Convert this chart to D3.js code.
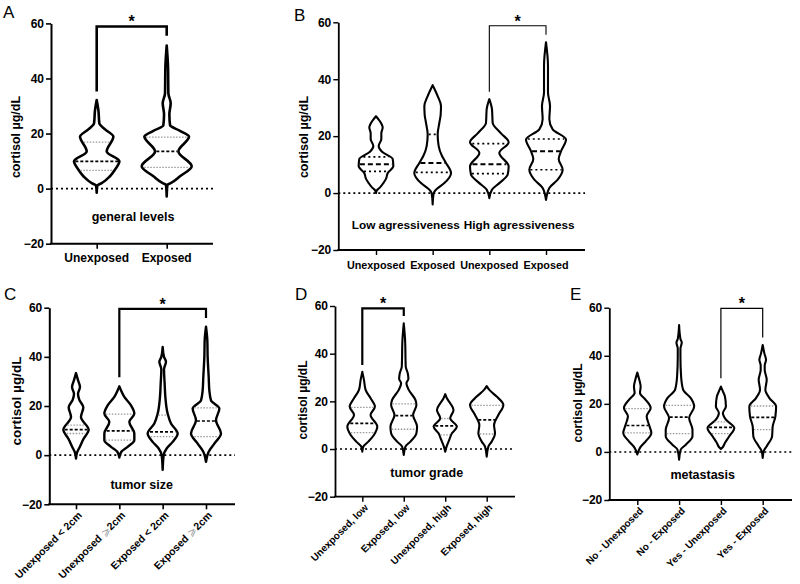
<!DOCTYPE html>
<html>
<head>
<meta charset="utf-8">
<script src="https://cdn.jsdelivr.net/npm/d3@7"></script>
<style>
  body { margin: 0; background: #fff; }
  text { font-family: "Liberation Sans", Arial, sans-serif; }
</style>
</head>
<body>
<div class="canvas"></div>
<script>
// y ticks shared by all panels
const yTicks = [-20, 0, 20, 40, 60]

// ---- panel A : general levels
const catsA = ['Unexposed', 'Exposed']
// violin outline: cortisol values (top to bottom) and relative half widths
const valsA = [
  [32.2, 28.5, 23.7, 21.5, 18.9, 13.5, 9.9, 6.9, 4.5, 2, 1.2, -1.5],
  [52, 44, 34.6, 31, 27, 23, 21, 18.9, 13.5, 8.1, 4.5, 2, 1.4, -2.8]
]
const densA = [
  [0, .024, .038, .12, .238, .143, .324, .262, .19, .071, .01, 0],
  [0, .019, .024, .057, .038, .048, .19, .319, .167, .357, .19, .057, .01, 0]
]
const medA = [9.9, 13.5]
const q1A = [6.6, 7.7]
const q3A = [16.9, 18.7]
const sigA = {from: 0, to: 1, top: 58.9, left: 35.3, right: 55.5}

// ---- panel B : aggressiveness
const catsB = ['Unexposed', 'Exposed', 'Unexposed ', 'Exposed ']
const groupsB = ['Low agressiveness', 'High agressiveness']
const valsB = [
  [27, 25.5, 23, 21, 19, 16.5, 14.5, 12, 9.5, 7, 5, 3.5, 2, 1, 0],
  [37.9, 34.1, 30.6, 27.5, 24.7, 20.6, 16.5, 13, 10.6, 7, 3.5, 1.2, 0, -4],
  [33, 29.4, 24.7, 21, 17.9, 14.1, 9.4, 6.5, 3.5, 1.2, -1.8],
  [53, 44.7, 35.3, 30.6, 25.9, 22.4, 18.8, 14.7, 12, 8.2, 4.7, 1.8, -2.4]
]
const densB = [
  [0, .059, .118, .094, .094, .047, .106, .294, .306, .206, .176, .129, .071, .018, 0],
  [0, .088, .147, .141, .118, .088, .106, .165, .235, .324, .206, .059, .018, 0],
  [0, .047, .059, .206, .341, .176, .341, .324, .176, .047, 0],
  [0, .035, .035, .071, .059, .118, .353, .265, .224, .294, .206, .059, 0]
]
const medB = [10.1, 10.6, 10.1, 14.7]
const q1B = [7.6, 7.3, 6.8, 8.2]
const q3B = [12.7, 20.6, 17.4, 19]
const sigB = {from: 2, to: 3, top: 58.8, left: 35.6, right: 55.6}

// ---- panel C : tumor size
const catsC = ['Unexposed < 2cm', 'Unexposed \u2A7E2cm', 'Exposed < 2cm', 'Exposed \u2A7E2cm']
const valsC = [
  [33.4, 30.5, 27.7, 25, 22.5, 19.5, 15.5, 10.3, 6.5, 3.5, 1, -1.4],
  [28, 26.4, 23.7, 20.3, 16.9, 13.5, 8.8, 6.1, 3.4, 1.4, -1],
  [44, 40, 38, 35, 29, 23.7, 16.9, 12.9, 8.8, 5.4, 2.7, 0, -6],
  [52.3, 46.6, 40, 31.8, 26.4, 22.3, 19, 14.2, 8.8, 4.7, 1.4, -2.7]
]
const densC = [
  [0, .046, .092, .046, .077, .169, .115, .292, .169, .092, .023, 0],
  [0, .038, .115, .269, .346, .231, .346, .346, .192, .046, 0],
  [0, .031, .077, .031, .046, .062, .115, .192, .346, .231, .092, .023, 0],
  [0, .031, .038, .062, .077, .115, .308, .231, .346, .192, .062, 0]
]
const medC = [10.4, 9.9, 9.5, 13.9]
const q1C = [8.8, 6.1, 7.5, 7.5]
const q3C = [12.2, 16.7, 16.3, 19.2]
const sigC = {from: 1, to: 3, top: 59.5, left: 31.7, right: 55.8}

// ---- panel D : tumor grade
const catsD = ['Unexposed, low', 'Exposed, low', 'Unexposed, high', 'Exposed, high']
const valsD = [
  [32.4, 29, 24.8, 21.3, 17.8, 14.3, 9.4, 5.9, 3.1, 1, -1.1],
  [52.7, 45.7, 34.5, 31.8, 29.5, 27.6, 24.8, 20.6, 18.5, 14.3, 9.4, 6.6, 3.1, 1, -2.5],
  [23, 21.3, 19.2, 16.4, 12.9, 9.4, 6.6, 3.8, 1, -1.1],
  [26.4, 24.8, 22, 18.5, 14.3, 10.1, 6.6, 3.1, 1, -3.2]
]
const densD = [
  [0, .04, .08, .2, .305, .2, .361, .281, .145, .024, 0],
  [0, .032, .048, .096, .112, .064, .12, .281, .305, .225, .321, .305, .161, .04, 0],
  [0, .04, .12, .2, .12, .281, .161, .096, .032, 0],
  [0, .064, .241, .402, .281, .177, .2, .12, .04, 0]
]
const medD = [10.8, 14, 9.7, 12.2]
const q1D = [6.9, 8.3, 5.9, 6.3]
const q3D = [17.5, 18.9, 12.8, 18.3]
const sigD = {from: 0, to: 1, top: 59, left: 35.2, right: 55.8}

// ---- panel E : metastasis
const catsE = ['No - Unexposed', 'No - Exposed', 'Yes - Unexposed', 'Yes - Exposed']
const valsE = [
  [33, 30, 27.2, 24.5, 21.7, 18.3, 14.8, 11.3, 7.9, 4.4, 1.7, -1.1],
  [52.8, 47, 45.5, 43, 39.7, 31.4, 25.9, 22.4, 18.9, 14.1, 9.3, 6.5, 3, 1, -3.2],
  [27.2, 25.2, 23.1, 18.9, 16.2, 13.4, 10, 6.5, 3.7, 1.7, 1.2],
  [44.5, 41, 38.3, 36, 34.2, 30, 25.9, 22.4, 18.9, 14.8, 10.7, 6.5, 2.4, 0.3, -2.5]
]
const densE = [
  [0, .048, .08, .064, .2, .32, .224, .28, .336, .2, .064, 0],
  [0, .032, .064, .032, .032, .048, .096, .28, .36, .24, .32, .32, .16, .04, 0],
  [0, .048, .096, .12, .048, .12, .32, .2, .096, .032, 0],
  [0, .04, .08, .048, .048, .096, .064, .16, .32, .304, .24, .224, .096, .024, 0]
]
const medE = [11, 14.5, 10.2, 14.4]
const q1E = [7.9, 7.6, 7.6, 9.3]
const q3E = [18, 19.4, 12.5, 19.1]
const sigE = {from: 2, to: 3, top: 59.7, left: 30.6, right: 47.6}

const svg = d3.select('.canvas').append('svg')
    .attr('width', 800)
    .attr('height', 584)
    .style('display', 'block')

svg.append('rect').attr('width', 800).attr('height', 584).attr('fill', '#fff')

const panels = [
  {letter: 'A', lx: 3, ly: 18, cats: catsA, vals: valsA, dens: densA, med: medA, q1: q1A, q3: q3A, sig: sigA,
   ax: 51, axEnd: 213, c0: 96.7, c1: 166.7, yTop: 23.4, yBot: 243.7,
   yl: [16, 137, 12.5], vs: 2.6, ws: 2, bs: 2.6, dark: false, rot: false, tick: 12, note: 'general levels', noteX: 133, noteY: 221},
  {letter: 'B', lx: 294, ly: 21, cats: catsB, vals: valsB, dens: densB, med: medB, q1: q1B, q3: q3B, sig: sigB,
   ax: 338.3, axEnd: 585, c0: 376, c1: 546, yTop: 22.3, yBot: 250,
   yl: [304, 137, 12.5], vs: 2.1, ws: 1.8, bs: 1.1, dark: true, rot: false, tick: 10.8},
  {letter: 'C', lx: 4, ly: 300, cats: catsC, vals: valsC, dens: densC, med: medC, q1: q1C, q3: q3C, sig: sigC,
   ax: 49.3, axEnd: 235, c0: 76, c1: 206, yTop: 307.7, yBot: 504.3,
   yl: [16, 401, 13.5], vs: 2.4, ws: 2, bs: 2.2, dark: false, rot: true, tick: 10.5, note: 'tumor size', noteX: 141.7, noteY: 489},
  {letter: 'D', lx: 295, ly: 300, cats: catsD, vals: valsD, dens: densD, med: medD, q1: q1D, q3: q3D, sig: sigD,
   ax: 335, axEnd: 515, c0: 362.3, c1: 486.7, yTop: 306, yBot: 496.7,
   yl: [303, 400, 12], vs: 2.1, ws: 1.8, bs: 2.2, dark: false, rot: true, tick: 10, note: 'tumor grade', noteX: 426.7, noteY: 477},
  {letter: 'E', lx: 570, ly: 300, cats: catsE, vals: valsE, dens: densE, med: medE, q1: q1E, q3: q3E, sig: sigE,
   ax: 609.3, axEnd: 792, c0: 637.3, c1: 762.7, yTop: 307.7, yBot: 500,
   yl: [578, 403, 12], vs: 2.1, ws: 1.8, bs: 1.2, dark: false, rot: true, tick: 10, note: 'metastasis', noteX: 702.7, noteY: 479}
]

panels.forEach(p => {
  const g = svg.append('g')
  const y = d3.scaleLinear().domain([-20, 60]).range([p.yBot, p.yTop])
  const x = d3.scalePoint().domain(p.cats).range([p.c0, p.c1])
  const step = x.step()

  // dotted zero line
  g.append('line')
      .attr('x1', p.ax).attr('x2', p.axEnd)
      .attr('y1', y(0)).attr('y2', y(0))
      .attr('stroke', '#000')
      .attr('stroke-width', 1.6)
      .attr('stroke-dasharray', '2,3')

  // violins
  p.cats.forEach((c, i) => {
    const cx = x(c)
    const pts = p.vals[i].map((v, k) => ({v: v, w: p.dens[i][k]}))
    const area = d3.area()
        .curve(d3.curveMonotoneY)
        .y(d => y(d.v))
        .x0(d => cx - d.w * step)
        .x1(d => cx + d.w * step)
    g.append('path')
        .datum(pts)
        .attr('d', area)
        .attr('fill', 'none')
        .attr('stroke', '#000')
        .attr('stroke-width', p.vs)
        .attr('stroke-linejoin', 'round')

    const widthAt = d3.scaleLinear().domain(p.vals[i]).range(p.dens[i])
    const qline = (v, color, dash, sw) => {
      const hw = Math.max(0, widthAt(v) * step - p.vs / 2)
      g.append('line')
          .attr('x1', cx - hw).attr('x2', cx + hw)
          .attr('y1', y(v)).attr('y2', y(v))
          .attr('stroke', color)
          .attr('stroke-width', sw)
          .attr('stroke-dasharray', dash)
    }
    if (p.dark) {
      qline(p.q1[i], '#000', '2,3', 1.7)
      qline(p.q3[i], '#000', '2,3', 1.7)
      qline(p.med[i], '#000', '5,3', 2)
    } else {
      qline(p.q1[i], '#9a9a9a', '1.5,1.5', 1.3)
      qline(p.q3[i], '#9a9a9a', '1.5,1.5', 1.3)
      qline(p.med[i], '#000', '3,2', 1.7)
    }
  })

  // y axis
  const yAxis = g.append('g')
      .attr('transform', `translate(${p.ax},0)`)
      .call(d3.axisLeft(y).tickValues(yTicks).tickSize(5).tickSizeOuter(0).tickPadding(2))
  yAxis.select('.domain').attr('stroke-width', p.ws)
  yAxis.selectAll('.tick line').attr('stroke-width', p.ws * 0.8)
  yAxis.selectAll('.tick text')
      .style('font-family', '"Liberation Sans", Arial, sans-serif')
      .style('font-weight', 'bold')
      .style('font-size', '12px')
      .attr('fill', '#000')

  // x axis
  g.append('line')
      .attr('x1', p.ax - p.ws / 2).attr('x2', p.axEnd)
      .attr('y1', y(-20)).attr('y2', y(-20))
      .attr('stroke', '#000')
      .attr('stroke-width', p.ws)
  const xAxis = g.append('g')
      .attr('transform', `translate(0,${y(-20)})`)
      .call(d3.axisBottom(x).tickSize(5).tickSizeOuter(0).tickFormat(''))
  xAxis.select('.domain').remove()
  xAxis.selectAll('.tick line').attr('stroke-width', p.ws * 0.8)

  // x labels
  p.cats.forEach(c => {
    const t = g.append('text')
        .style('font-weight', 'bold')
        .style('font-size', p.tick + 'px')
    if (p.rot) {
      t.attr('text-anchor', 'end')
          .attr('transform', `translate(${x(c) + 4},${y(-20) + 9}) rotate(-45)`)
          .attr('dy', '0.35em')
      const parts = c.trim().split('\u2A7E')
      t.append('tspan').text(parts[0])
      if (parts.length > 1) {
        t.append('tspan').attr('fill', '#999').style('font-weight', 'normal').text('\u2A7E')
        t.append('tspan').text(parts[1])
      }
    } else {
      t.attr('text-anchor', 'middle')
          .attr('x', x(c))
          .attr('y', y(-20) + 18.5)
          .text(c.trim())
    }
  })

  // y label
  g.append('text')
      .attr('transform', `translate(${p.yl[0]},${p.yl[1]}) rotate(-90)`)
      .attr('text-anchor', 'middle')
      .attr('dy', '0.35em')
      .style('font-weight', 'bold')
      .style('font-size', p.yl[2] + 'px')
      .text('cortisol \u00B5g/dL')

  // panel letter
  g.append('text')
      .attr('x', p.lx).attr('y', p.ly)
      .style('font-size', '17px')
      .text(p.letter)

  // significance bracket
  const s = p.sig
  const xa = x(p.cats[s.from]), xb = x(p.cats[s.to])
  g.append('path')
      .attr('d', `M${xa},${y(s.left)}V${y(s.top)}H${xb}V${y(s.right)}`)
      .attr('fill', 'none')
      .attr('stroke', '#000')
      .attr('stroke-width', p.bs)
  g.append('text')
      .attr('x', (xa + xb) / 2)
      .attr('y', y(s.top) + 1)
      .attr('text-anchor', 'middle')
      .style('font-weight', 'bold')
      .style('font-size', '16px')
      .text('*')

  // group note inside the plot
  if (p.note) {
    g.append('text')
        .attr('x', p.noteX).attr('y', p.noteY)
        .attr('text-anchor', 'middle')
        .style('font-weight', 'bold')
        .style('font-size', '12.5px')
        .text(p.note)
  }
})

// group labels of panel B
const xB = d3.scalePoint().domain(catsB).range([376, 546])
groupsB.forEach((lab, i) => {
  svg.append('text')
      .attr('x', (xB(catsB[2 * i]) + xB(catsB[2 * i + 1])) / 2 + 1.5)
      .attr('y', 228.5)
      .attr('text-anchor', 'middle')
      .style('font-weight', 'bold')
      .style('font-size', '11.8px')
      .text(lab)
})
</script>
</body>
</html>
